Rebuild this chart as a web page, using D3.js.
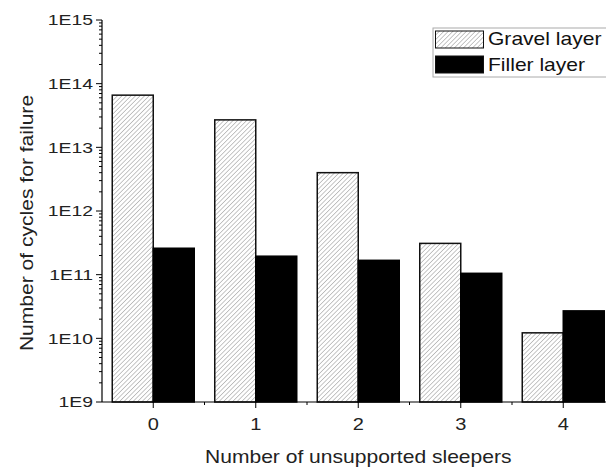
<!DOCTYPE html>
<html>
<head>
<meta charset="utf-8">
<script src="https://cdn.jsdelivr.net/npm/d3@7"></script>
<style>
  body { margin: 0; background: #fff; }
  svg { display: block; font-family: "Liberation Sans", Arial, sans-serif; }
</style>
</head>
<body>
<div id="chart"></div>
<script>
(function(){
  'use strict';

  var categories = [0, 1, 2, 3, 4];
  var gravel = [6.6e13, 2.7e13, 4.0e12, 3.1e11, 1.22e10];
  var filler = [2.6e11, 1.95e11, 1.68e11, 1.05e11, 2.7e10];
  var seriesNames = ['Gravel layer', 'Filler layer'];
  var yTickLabels = ['1E9', '1E10', '1E11', '1E12', '1E13', '1E14', '1E15'];

  var w = 606, h = 470;
  var svg = d3.select('#chart').append('svg')
    .attr('width', w)
    .attr('height', h);

  // text in the original is drawn wide, stretch it along its run
  var SX = 1.17;

  var defs = svg.append('defs');
  var pat = defs.append('pattern')
    .attr('id', 'hatch')
    .attr('patternUnits', 'userSpaceOnUse')
    .attr('width', 3.2)
    .attr('height', 3.2)
    .attr('patternTransform', 'rotate(45)');
  pat.append('rect').attr('width', 3.2).attr('height', 3.2).attr('fill', '#fff');
  pat.append('line')
    .attr('x1', 0).attr('y1', 0).attr('x2', 0).attr('y2', 3.2)
    .attr('stroke', '#8e8e8e').attr('stroke-width', 1);

  var x = d3.scaleLinear()
    .domain([-0.5, 4.5])
    .range([102, 614.5]);

  var y = d3.scaleLog()
    .domain([1e9, 1e15])
    .range([402, 20]);

  var bw = (x(1) - x(0)) * 0.4;

  // bars
  var g = svg.append('g');
  g.selectAll('.gravel')
    .data(gravel)
    .enter().append('rect')
    .attr('class', 'gravel')
    .attr('x', function(d, i){ return x(categories[i]) - bw; })
    .attr('y', function(d){ return y(d); })
    .attr('width', bw)
    .attr('height', function(d){ return y(1e9) - y(d); })
    .attr('fill', 'url(#hatch)')
    .attr('stroke', '#111')
    .attr('stroke-width', 1.5);

  g.selectAll('.filler')
    .data(filler)
    .enter().append('rect')
    .attr('class', 'filler')
    .attr('x', function(d, i){ return x(categories[i]); })
    .attr('y', function(d){ return y(d); })
    .attr('width', bw)
    .attr('height', function(d){ return y(1e9) - y(d); })
    .attr('fill', '#000')
    .attr('stroke', '#000')
    .attr('stroke-width', 1.5);

  // y axis
  var yAx = svg.append('g').attr('transform', 'translate(102,0)');
  yAx.append('line')
    .attr('x1', 0).attr('x2', 0)
    .attr('y1', y(1e15)).attr('y2', y(1e9))
    .attr('stroke', '#000').attr('stroke-width', 1.2);
  var allTicks = y.ticks().filter(function(t){ return t >= 1e9 && t <= 1e15; });
  yAx.selectAll('.yt')
    .data(allTicks)
    .enter().append('line')
    .attr('x1', function(d){
      var m = d / Math.pow(10, Math.round(Math.log10(d)));
      return Math.abs(m - 1) < 1e-6 ? -6 : -3;
    })
    .attr('x2', 0)
    .attr('y1', function(d){ return y(d); })
    .attr('y2', function(d){ return y(d); })
    .attr('stroke', '#000').attr('stroke-width', 1);
  yAx.selectAll('.yl')
    .data(yTickLabels)
    .enter().append('text')
    .attr('transform', function(d, i){
      return 'translate(-9,' + y(Math.pow(10, 9 + i)) + ') scale(1.25,1)';
    })
    .attr('dy', '0.35em')
    .attr('text-anchor', 'end')
    .attr('font-size', 15.5)
    .attr('fill', '#222')
    .text(function(d){ return d; });

  // x axis
  var xAx = svg.append('g').attr('transform', 'translate(0,402)');
  xAx.append('line')
    .attr('x1', x(-0.5)).attr('x2', x(4.5))
    .attr('y1', 0).attr('y2', 0)
    .attr('stroke', '#000').attr('stroke-width', 1.2);
  xAx.selectAll('.xt')
    .data(categories)
    .enter().append('line')
    .attr('x1', function(d){ return x(d); })
    .attr('x2', function(d){ return x(d); })
    .attr('y1', 0).attr('y2', 6)
    .attr('stroke', '#000');
  xAx.selectAll('.xm')
    .data(categories.map(function(d){ return d + 0.5; }))
    .enter().append('line')
    .attr('x1', function(d){ return x(d); })
    .attr('x2', function(d){ return x(d); })
    .attr('y1', 0).attr('y2', 3)
    .attr('stroke', '#000');
  xAx.selectAll('.xl')
    .data(categories)
    .enter().append('text')
    .attr('transform', function(d){ return 'translate(' + x(d) + ',28) scale(1.25,1)'; })
    .attr('text-anchor', 'middle')
    .attr('font-size', 16)
    .attr('fill', '#222')
    .text(function(d){ return d; });

  // titles
  svg.append('text')
    .attr('transform', 'translate(' + ((x(-0.5) + x(4.5)) / 2) + ',463) scale(' + SX + ',1)')
    .attr('text-anchor', 'middle')
    .attr('font-size', 18)
    .attr('fill', '#222')
    .text('Number of unsupported sleepers');

  svg.append('text')
    .attr('transform', 'translate(33,223) rotate(-90) scale(' + SX + ',1)')
    .attr('text-anchor', 'middle')
    .attr('font-size', 18)
    .attr('fill', '#222')
    .text('Number of cycles for failure');

  // legend
  var lg = svg.append('g').attr('transform', 'translate(433,28)');
  lg.append('rect')
    .attr('width', 210).attr('height', 49)
    .attr('fill', '#fff').attr('stroke', '#aaa').attr('stroke-width', 1);
  var fills = ['url(#hatch)', '#000'];
  lg.selectAll('.sw')
    .data(seriesNames)
    .enter().append('rect')
    .attr('x', 2.5)
    .attr('y', function(d, i){ return 3 + i * 25; })
    .attr('width', 48).attr('height', 17)
    .attr('fill', function(d, i){ return fills[i]; })
    .attr('stroke', '#111').attr('stroke-width', 1);
  lg.selectAll('.lt')
    .data(seriesNames)
    .enter().append('text')
    .attr('transform', function(d, i){ return 'translate(55,' + (17 + i * 26) + ') scale(' + SX + ',1)'; })
    .attr('font-size', 18)
    .attr('fill', '#111')
    .text(function(d){ return d; });
}());
</script>
</body>
</html>
